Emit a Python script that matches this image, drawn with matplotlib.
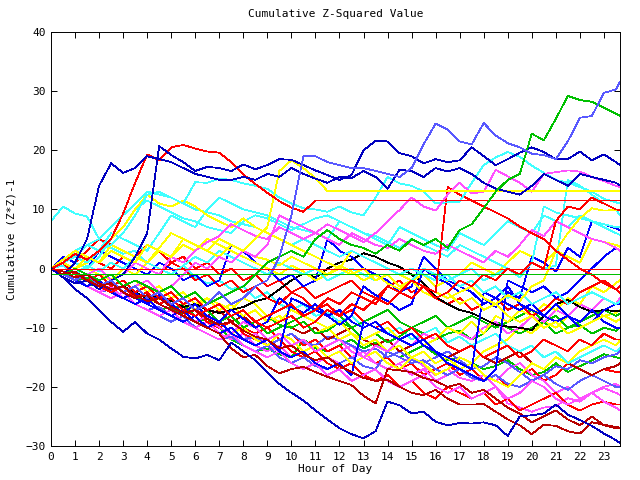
import matplotlib
matplotlib.use("Agg")
import matplotlib.pyplot as plt

# sample times: every half hour, last sample at 23:40
HOURS = [i / 2 for i in range(48)] + [23.67]

# gnuplot-ish line colours
RED = '#ff0000'
GRN = '#00c000'
BLU = '#0000ff'
DBL = '#0000c0'
LBL = '#5858ff'
MAG = '#ff50ff'
CYN = '#40ffff'
YEL = '#ffff00'
DRD = '#b80000'
BLK = '#000000'

# cumulative (z*z)-1 per sensor (7 values per row)
lb1 = [0, -1, -2, -1, -3, -2, -4,
       -3, -5, -4, -6, -5, -7, -6,
       -4, -6, -5, -3, -2, 2, 9,
       19, 19, 18, 17.5, 17, 17, 16.5,
       16, 15.5, 17, 21, 24.5, 23.5, 21.5,
       21, 24.6, 22.5, 21.2, 20.5, 19.4, 19.2,
       18.5, 21.5, 25.5, 25.8, 29.7, 30.3, 31.6]
g1 = [0, -1, 0, -1, -2, -1, -3,
      -2, -3, -4, -3, -5, -4, -6,
      -5, -4, -3, -1, 1, 2, 3,
      2, 5, 6.5, 5, 4, 3.5, 2.5,
      4, 3, 5, 4, 5, 3.5, 6.5,
      7.5, 10.2, 13, 15, 16, 22.8, 21.7,
      25.3, 29.2, 28.5, 28.2, 27.2, 26.2, 25.8]
db1 = [0, -1, 1, 5, 14, 17.8, 16.2,
       17, 19, 18.5, 18, 17, 16, 15.5,
       15, 15, 15.5, 15, 16, 15.5, 17,
       16, 15.2, 14.5, 15.5, 15.3, 16.5, 15.5,
       13.5, 16.7, 16.5, 15.5, 17, 16.4, 17,
       16, 14.5, 13.5, 13, 12.5, 14, 16,
       15, 14, 16, 15.5, 15, 14.5, 14.1]
db2 = [0, -1.5, -2.5, -2, -3.5, -2, -1,
       2, 6, 20.7, 19.2, 18, 16.5, 17.2,
       17, 16.5, 17.6, 16.8, 17.5, 18.5, 18.4,
       17.5, 16.6, 15.8, 15, 15.8, 20, 21.6,
       21.5, 19.5, 19, 17.8, 18.5, 18, 18.3,
       20.5, 19, 17.5, 18.5, 19.6, 20.5, 19.7,
       18.5, 18.5, 19.8, 18.3, 19.3, 18, 17.5]
r1 = [0, 1, 2.5, 1.5, 3, 5, 9.3,
      14.5, 19.3, 18.3, 20.5, 20.9, 20.3, 19.8,
      19.6, 18, 15.9, 14.3, 12.8, 11.4, 10.3,
      9.6, 11.5, 11.5, 11.5, 11.5, 11.5, 11.5,
      11.5, 11.5, 11.5, 11.5, 11.5, 11.5, 11.5,
      11.5, 11.5, 11.5, 11.5, 11.5, 11.5, 11.5,
      11.5, 11.5, 11.5, 11.5, 11.5, 11.5, 11.5]
y1 = [0, 1, 0, 2, 1, 3, 2,
      1, 4, 3, 2, 5, 4, 3,
      5, 4, 3, 5, 7, 16.5, 18.3,
      17, 15.3, 13.1, 13.1, 13.1, 13.1, 13.1,
      13.1, 13.1, 13.1, 13.1, 13.1, 13.1, 13.1,
      13.1, 13.1, 13.1, 13.1, 13.1, 13.1, 13.1,
      13.1, 13.1, 13.1, 13.1, 13.1, 13.1, 13.1]
c1 = [8, 10.5, 9.3, 8.8, 5, 3.5, 2.5,
      3, 1, 0, -1, 0.5, -1.5, -2.5,
      -2, -3.5, -3, -5, -4, -6, -7,
      -6, -8, -7.5, -9, -8, -10, -9,
      -11, -10, -12, -11, -10, -12.5, -11.5,
      -13, -12, -11, -13, -14, -13, -15,
      -14, -16, -15, -14, -13, -14, -13.5]
c2 = [0, 1, 2, 1, 3, 4, 6,
      9, 12.5, 13, 12, 11, 14.6, 14.5,
      15.2, 15, 14.4, 14, 13.5, 12, 11,
      10.2, 10, 9.6, 10.5, 9.5, 9, 12,
      15.5, 14.4, 14, 13, 11, 11.2, 11.3,
      14.5, 17.5, 18.8, 19.7, 18.9, 17.4, 16.2,
      15, 14.5, 13.8, 13, 11.8, 11.2, 11]
c3 = [0, -1, 1, 0, 2, 5, 7,
      10, 11.5, 10.5, 9.5, 8.5, 8, 7,
      6.5, 6, 8, 9, 8.5, 7.5, 6.5,
      7.5, 8.5, 9, 8, 7, 6, 5.5,
      4.5, 3.5, 5, 4, 3, 2, 4,
      3, 2, 1, 0, -1, 1, 0,
      0.5, 15, 14, 12.5, 11, 10, 9]
c4 = [0, 0.5, -1, 0.5, -0.5, 1, 0,
      2, 1, 0, -1, 0.5, 2, 1,
      3, 2, 1, 0, -1, 1, 0,
      -1, 0, -2, -1, 0, -1, -2,
      -1, -3, -2, 0, -1, -2, -1,
      0, -2, -1, 0, -1.5, 1, 10.5,
      9.5, 9, 8.5, 8, 7.5, 7, 7]
c5 = [0, 1, 3, 4, 3, 6, 5,
      4, 3, 6, 9, 8, 7, 10,
      12, 11, 10, 9.5, 9, 8, 7,
      6.5, 6, 5, 8, 7, 6, 5,
      4, 7, 6, 5, 4, 3, 6,
      5, 4, 6, 8, 7, 6, 9,
      8, 7, 9, 8, 7, 6, 5.7]
c6 = [0, 1, 2, 4, 5, 7, 9,
      11, 13, 12.5, 12, 11, 10, 9.5,
      9, 8, 7.5, 7, 6, 5, 4,
      5, 4, 3, 2, 3, 2, 1,
      0, -1, 0, -1, -2, -1, -3,
      -2, -4, -3, -5, -4, -6, -5,
      -4, -6, -5, -4, -5, -6, -5.5]
m1 = [0, -1, -2, -1, -3, -2, -4,
      -3, -2, -4, -3, -1, 1, 0,
      2, 1, 3, 2, 4, 9, 8,
      7, 6, 7.5, 6.5, 5.5, 4.5, 6,
      8, 9.9, 12, 10.5, 9.8, 12.5, 14.5,
      12.7, 13, 16.7, 15.6, 14.5, 13, 16,
      16.3, 16.6, 16.4, 15.5, 14.8, 14, 13.8]
m2 = [0, 1, 0, -1, 0, -2, -1,
      1, 0, -1, 2, 1, 3, 4.5,
      5.5, 7.5, 6.5, 5.5, 5, 7, 6,
      5, 6, 5, 4, 6, 5, 4,
      3.5, 5, 4, 3, 2.5, 4, 3,
      2, 1, 3, 2, 4, 6.5, 5.5,
      8, 7, 6, 5, 4.5, 3.5, 3]
m3 = [0, -1, -2, -3, -4, -3, -5,
      -6, -5, -7, -8, -7, -9, -8,
      -10, -11, -9, -10, -12, -11, -13,
      -12, -14, -13, -12, -14, -15, -13,
      -14, -12, -13, -11, -12, -10, -11,
      -12, -10, -9, -11, -10, -8, -9,
      -7, -8, -6, -7, -5, -6, -5]
m4 = [0, -1, -2, -3, -4, -5, -4,
      -6, -7, -8, -7, -9, -10, -11,
      -12, -11, -13, -14, -15, -14, -16,
      -17, -16, -18, -17, -19, -18, -17,
      -19, -20, -19, -18, -20, -21, -20,
      -22, -21, -20, -22, -21, -19, -20,
      -22, -23, -22, -21, -22.5, -23.5, -24]
e1 = [0, -1, -2, -1, -2.5, -4, -3,
      -5, -6, -4.5, -6, -7.5, -6, -8,
      -9, -7, -8.5, -10, -9, -5, -6.5,
      -7.5, -6, -8, -9.5, -8, -3, -4.5,
      -5.5, -7, -6, 0, -1.5, -2.5, -4,
      -3, -5, -6.5, -4, -5, 2, 1,
      -0.5, 3.5, 2, 8, 7.5, 6.8, 6.5]
e2 = [0, 1.5, 3, 2, 1, 4, 3,
      2, 1, 3.5, 6, 5, 4, 3,
      2, 4, 3, 2, 1.5, 0.5, 2,
      1, 0, -1, 0.5, -0.5, -2, -1,
      -2.5, -3.5, -2, -3, -4, -5, -4,
      -3, -5, -6, -4.5, -5.5, -3, -2,
      3, 6, 8.5, 10.2, 9.8, 9.9, 10]
e3 = [0, -1, 1, 0, -1, -2, 0,
      -1, 1, 3, 2, 4, 3, 5,
      4, 3, 2, 1, 0, -1, 0.5,
      -0.5, -2, -1, 0, 3, 2, 1,
      0, -1, -2, -1, -3, -2, -1,
      1, 0, -1, 1, 3, 2, 1,
      3, 2, 1, 5, 4.5, 4, 3.7]
e3b = [0, -1, -2, -3, -2, -4, -5,
       -4, -6, -5, -4, -6, -7, -5,
       -6, -7, -5, -6, -8, -9, -7,
       -8, -9, -10, -9, -11, -12, -11,
       -10, -12, -11, -13, -12, -10, -11,
       -9, -11, -8, -9, -7, -8, -6,
       -7, -5, -6, -3, -4, -2.5, -1.9]
e4 = [0, 2, 1, 3, 5, 4, 3,
      2, 4, 3, 1, 2, 0, 1,
      -1, 0, -2, -1, -3, -2, -4,
      -3, -5, -4, -3, -2, -4, -5,
      -3, -2, -4, -3, -5, -6, -5,
      -7, -6, -5, -7, -6, -8, -7,
      -5, -6, -4, -3, -2, -3.5, -3]
e5 = [0, -1, -2, -1, -3, -4, -3,
      -5, -4, -6, -7, -6, -8, -7,
      -9, -8, -10, -9, -11, -10, -9,
      -8, -9, -7, -8, -10, -9, -8,
      -7, -9, -10, -9, -8, -10, -9,
      -8, -9, -10, -9, -8, -7, -9,
      -8, -10, -9, -8, -7, -8, -7.6]
e6 = [0, -0.5, -1.5, -1, -2.5, -3.5, -3,
      -4, -5, -4.5, -5.5, -6.5, -6, -7,
      -7.5, -7, -6.5, -5.5, -5, -3.5, -2,
      -0.8, -1.5, 0, 1, 1.5, 2.6, 2,
      1, 0.3, -1, -2.5, -4.8, -6, -7,
      -7.5, -8.5, -9.5, -9.8, -10, -10.4, -8,
      -6, -5.3, -6.5, -7.3, -7, -7.2, -7.1]
g2 = [0, -1, -2, -1.5, -3, -4, -3,
      -5, -4, -6, -7, -6, -8, -7,
      -9, -8, -10, -9, -8, -9.5, -10,
      -9, -11, -10.5, -9, -10, -12, -11,
      -12.5, -11.5, -10, -11, -12, -11, -10.5,
      -12, -11, -9, -10, -11, -10, -9,
      -11, -10, -9.5, -11, -10, -10.5, -10]
e7 = [0, -1, -2, -3, -2, -4, -5,
      -6, -5, -7, -8, -7, -9, -10,
      -9, -11, -10, -12, -13, -11, -12,
      -14, -13, -15, -14, -16, -15, -14,
      -16, -17, -15, -16, -18, -17, -15,
      -16, -18, -19, -20, -18, -16, -17,
      -15, -16, -14, -13, -12, -13, -12.1]
e9 = [0, -1, -2, -3, -2.5, -4, -5,
      -4.5, -6, -7, -6.5, -8, -9, -8.5,
      -10, -12, -13, -14, -13.5, -14.5, -15,
      -12, -13.5, -14, -13, -12, -13.5, -12.5,
      -14, -15, -14, -13, -14.5, -15.5, -15,
      -16, -17, -16.5, -15.5, -17, -18, -17.5,
      -16, -17.5, -16.5, -15.5, -14.5, -15, -15.2]
e10 = [0, 1, 0, -1, -2, -1, -3,
       -4, -3, -5, -6, -5, -7, -8,
       -9, -8, -10, -11, -10, -12, -11,
       -13, -12, -14, -13, -15, -14, -16,
       -15, -17, -16, -18, -17, -16, -18,
       -17, -19, -18, -20, -18, -17, -19,
       -18, -16, -17, -18, -17, -17.5, -17.4]
e11 = [0, -1, -2, -3, -4, -3, -5,
       -6, -7, -8, -7, -9, -10, -9,
       -11, -12, -11, -13, -14, -13, -15,
       -14, -13, -15, -16, -15, -14, -16,
       -17, -16, -18, -17, -19, -18, -17,
       -16, -18, -19, -17, -16, -18, -19,
       -21, -20, -22, -21, -20, -19.5, -20]
e12 = [0, -1, -2, -1, -3, -4, -5,
       -4, -6, -7, -8, -7, -9, -10,
       -9, -11, -12, -11, -13, -14, -15,
       -14, -16, -15, -14, -13, -15, -16,
       -17, -16, -15, -16.5, -18, -17, -18.5,
       -19, -18, -20, -22.8, -23.5, -24.2, -23.5,
       -23.3, -21.9, -22.5, -21, -20.2, -21, -21.4]
e13 = [0, -1, -0.5, -2, -3, -2, -4,
       -5, -4, -6, -7, -8, -7, -9,
       -10, -9, -11, -12, -13, -12, -14,
       -15, -14, -16, -17, -16, -18, -19,
       -18, -20, -19, -21, -22, -20, -21,
       -22, -21, -23, -22, -24, -23, -22,
       -21, -23, -24, -23, -22.5, -23, -23]
lb2 = [0, -1, -1.5, -3, -4, -3.5, -5,
       -6, -7, -6.5, -8, -9, -8, -10,
       -11, -10, -12, -11.5, -13, -12, -11,
       -12.5, -13, -11.5, -12, -13, -14, -13.5,
       -15, -14, -15.5, -16, -15, -14, -15.5,
       -17, -16.5, -15, -16, -17.5, -19, -18,
       -16.5, -17, -15.5, -16, -15, -14.5, -14]
lb3 = [0, -1, -2, -3, -4, -5, -4,
       -6, -7, -8, -9, -8, -10, -11,
       -12, -11.5, -13, -14, -13, -15, -16,
       -15, -16.5, -17, -16, -15, -16.5, -17,
       -14, -15, -16, -15.5, -17, -18, -17,
       -18.5, -19, -18, -19.5, -20, -19, -18,
       -19.5, -20.5, -19, -18, -19, -20, -20]
b1 = [0, -1.5, -3.5, -5, -7, -9, -10.7,
      -9, -11, -12, -13.5, -14.9, -15.2, -14.6,
      -15.5, -12.5, -14, -15.5, -17.5, -19.5, -21,
      -22.3, -24, -25.5, -27, -28, -28.7, -27.5,
      -22.5, -23.1, -24.5, -24.2, -25.9, -26.5, -26.1,
      -26.2, -26, -26.5, -28.3, -25, -24.8, -24.5,
      -23, -24.7, -25.6, -26.6, -27.9, -29, -29.5]
b3 = [0, 2, 1, 0, 3, 2, 1,
      0, -1, 1, 0, -2, -1, -3,
      -2, 4, 3, 1, 0, -2, -1,
      -3, -2, 5, 3, 2, 0, -1,
      -2, -4, -3, 2, 0, -2, -3,
      -4, -6, -5, -3, -6, -7, -8,
      -6, -8, -9, -7, -9, -10, -10]
b4 = [0, -1, -2, -3, -2, -4, -5,
      -6, -5, -7, -8, -9, -8, -10,
      -11, -10, -12, -13, -12, -14, -5,
      -6, -7, -8, -7, -9, -10, -9,
      -11, -12, -11, -13, -14, -16, -17,
      -18, -19, -17, -2, -3, -4, -3,
      -5, -4, -2, 0, 2, 3.5, 3]
b5 = [0, -1, -2, -1, -3, -4, -5,
      -4, -6, -7, -8, -7, -9, -10,
      -9, -11, -12, -13, -12, -14, -15,
      -14, -16, -17, -16, -18, -9, -10,
      -11, -12, -13, -12, -14, -15, -16,
      -17, -4, -5, -6, -7, -6, -8,
      -9, -8, -10, -9, -7, -6, -6]
dra = [0, -1, -0.5, -2, -3, -2.5, -4,
       -5, -4.5, -6, -7, -8, -9, -10,
       -11, -13.5, -15, -14.6, -16.5, -17.7, -17,
       -16.6, -17.5, -18.3, -19, -19.7, -21.5, -22.8,
       -17, -17.2, -17.5, -18.5, -19, -20, -19.5,
       -21, -20.5, -22, -23.5, -24.5, -26, -25,
       -24, -25.5, -26.5, -25, -26.5, -27, -27]
drc = [0, -0.5, -1.5, -1, -2.5, -3.5, -3,
       -4.5, -5.5, -5, -6.5, -7.5, -7, -8.5,
       -9.5, -9, -10.5, -11.5, -12, -13.5, -13,
       -14.5, -15.5, -15, -16.5, -17.5, -18.5, -19,
       -18.8, -20, -21, -21.4, -20.5, -22, -23,
       -23, -22.9, -24.2, -25.5, -26.5, -28, -26.4,
       -26.6, -27.5, -27.9, -26, -26.4, -26.8, -26.9]
drd = [0, -1, -2, -1, -3, -2, -4,
       -3, -5, -6, -5, -7, -6, -8,
       -7, -9, -8, -10, -9, -8, -10,
       -11, -10, -12, -11, -10, -12, -13,
       -12, -14, -13, -12, -14, -15, -14,
       -13, -15, -16, -15, -14, -16, -17,
       -15, -16, -17, -18, -17, -16.5, -16]
r5 = [0, 1, 3, 2, 1, 0, 2,
      1, 0, -1, 1, 0, -2, -1,
      -3, -2, -4, -3, -5, -6, -4,
      -5, -7, -6, -8, -7, -9, -10,
      -9, -11, -10, -12, -11, -13, -14,
      -13, -15, -14, -13, -15, -14, -12,
      -13, -14, -12, -13, -11, -12, -12]
r6 = [0, -1, -2, -1, -3, -4, -3,
      -5, -4, -6, -5, -7, -8, -7,
      -6, -8, -7, -9, -8, -7, -6,
      -8, -7, -5, -6, -4, -5, -6,
      -3, -4, -2, -3, -5, -4, -2,
      -3, -1, -2, 0, -1, 1, 0,
      8, 10.5, 10, 12, 11, 10, 9.9]
r7 = [0, 1, -1, -2, -1, -3, -2,
      -4, -3, -5, -4, -6, -5, -7,
      -6, -8, -7, -9, -10, -9, -8,
      -10, -9, -7, -8, -6, -7, -5,
      -6, -4, -5, -3, -4, 13.8, 12.5,
      11.5, 10.5, 9.5, 8.5, 7.1, 6, 5,
      3, 1.5, 0, -1, -2.5, -3.5, -4.2]
y4 = [0, 1, 0, -1, -2, -1, -3,
      -2, -4, -3, -5, -4, -6, -5,
      -7, -6, -8, -7, -9, -8, -10,
      -9, -11, -10, -12, -11, -13, -12,
      -14, -13, -15, -14, -16, -15, -17,
      -16, -14, -13, -12, -10, -11, -9,
      -10, -8, -9, -7, -8, -7.5, -7]
y5 = [0, -1, 0, 1, 3, 5, 7,
      10, 12.5, 11, 10.5, 11.5, 10.5, 9,
      8, 7, 8.5, 7, 6, 5, 4,
      3, 2, 1, 0, -1, 0, -2,
      -1, -3, -2, -4, -5, -4, -6,
      -5, -7, -6, -8, -9, -8, -10,
      -9, -11, -10, -9, -8, -9, -8.5]
flat_red = [-0.1] * len(HOURS)
flat_green = [-0.9] * len(HOURS)

series = [
    (e9, GRN), (e10, RED), (e11, MAG), (e12, MAG), (e13, RED),
    (lb2, LBL), (lb3, LBL), (drd, DRD), (m4, MAG), (y4, YEL),
    (e7, YEL), (c1, CYN), (g2, GRN), (e5, GRN), (m3, MAG),
    (e3b, YEL), (e4, RED), (e6, BLK), (r5, RED), (b5, BLU),
    (b4, BLU), (b3, BLU), (e3, YEL), (e1, BLU), (c5, CYN),
    (c4, CYN), (c3, CYN), (c6, CYN), (y5, YEL), (m2, MAG),
    (e2, YEL), (r6, RED), (r7, RED), (c2, CYN), (m1, MAG),
    (y1, YEL), (r1, RED), (db1, DBL), (db2, DBL), (g1, GRN),
    (lb1, LBL), (dra, DRD), (drc, DRD), (b1, DBL),
    (flat_green, GRN), (flat_red, RED),
]

plt.rcParams['font.family'] = ['DejaVu Sans Mono']
plt.rcParams['font.size'] = 8

fig = plt.figure(figsize=(6.4, 4.8), dpi=100)
ax = fig.add_axes([51 / 640, 34 / 480, 569 / 640, 414 / 480])

for vals, col in series:
    ax.plot(HOURS[:len(vals)], vals, color=col, lw=0.55, antialiased=False)

ax.set_xlim(0, 23.67)
ax.set_ylim(-30, 40)
ax.set_xticks(range(24))
ax.set_yticks(range(-30, 41, 10))
ax.tick_params(direction='in', length=4.5, width=0.7, top=True, right=True,
               labelsize=8, pad=4)
for sp in ax.spines.values():
    sp.set_linewidth(0.7)

ax.set_title('Cumulative Z-Squared Value', fontsize=8, pad=11)
ax.set_xlabel('Hour of Day', fontsize=8, labelpad=2)
ax.set_ylabel('Cumulative (Z*Z)-1', fontsize=8, labelpad=6)

fig.savefig('out.png', dpi=100)
